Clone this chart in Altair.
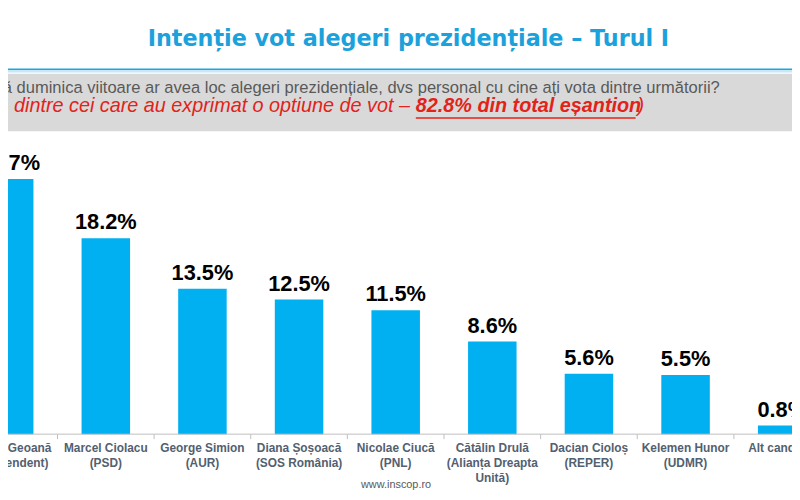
import altair as alt
import pandas as pd

# ---- data -------------------------------------------------------------
candidates = ["Mircea Geoană", "Marcel Ciolacu", "George Simion", "Diana  Șoșoacă",
              "Nicolae Ciucă", "Cătălin  Drulă", "Dacian  Cioloș", "Kelemen Hunor",
              "Alt candidat"]
parties = ["(Independent)", "(PSD)", "(AUR)", "(SOS România)", "(PNL)",
           "(Alianța  Dreapta\nUnită)", "(REPER)", "(UDMR)", ""]
values = [23.7, 18.2, 13.5, 12.5, 11.5, 8.6, 5.6, 5.5, 0.8]

title_text = "Intenție vot alegeri prezidențiale – Turul I"
question_text = ("Dacă duminica viitoare ar avea loc alegeri prezidențiale, "
                 "dvs personal cu cine ați vota dintre următorii?")
note_a = "(% dintre cei care au exprimat o optiune de vot –"
note_b = "82.8% din total eșantion"
note_c = ")"
footer_text = "www.inscop.ro"

# ---- table --------------------------------------------------------------
df = pd.DataFrame({
    "idx": list(range(len(candidates))),
    "value": values,
    "cat": [c + ("\n" + p if p else "") for c, p in zip(candidates, parties)],
})
one = pd.DataFrame({"a": [0]})

W, H = 792, 492
BLUE = "#00B0F0"
xs = alt.Scale(domain=[0.039, 8.0503], nice=False, zero=False)
ys = alt.Scale(domain=[-5.882, 39.338], nice=False, zero=False)

base = alt.Chart(df)

bars = base.mark_bar(size=49, color=BLUE, clip=True).encode(
    x=alt.X("idx:Q", scale=xs, axis=None),
    y=alt.Y("value:Q", scale=ys, axis=None),
    y2=alt.datum(0),
)

vlabels = base.transform_calculate(
    lab="format(datum.value, '.1f') + '%'"
).mark_text(font="Liberation Sans", fontSize=22, fontWeight="bold", color="#000000",
            baseline="alphabetic", dy=-9, clip=True).encode(
    x=alt.X("idx:Q", scale=xs, axis=None),
    y=alt.Y("value:Q", scale=ys, axis=None),
    text="lab:N",
)

catlabels = base.mark_text(font="Liberation Sans", fontSize=12, fontWeight="bold",
                           color="#52606F", baseline="alphabetic", lineBreak="\n",
                           lineHeight=15, clip=True).encode(
    x=alt.X("idx:Q", scale=xs, axis=None),
    y=alt.value(446),
    text="cat:N",
)

axisline = alt.Chart(one).mark_rule(color="#BFBFBF", strokeWidth=1).encode(
    x=alt.value(0), x2=alt.value(W),
    y=alt.Y("a:Q", scale=ys, axis=None),
)

ticks = base.transform_filter("datum.idx < 8").transform_calculate(
    b="datum.idx + 0.5"
).mark_rule(color="#BFBFBF", strokeWidth=1).encode(
    x=alt.X("b:Q", scale=xs, axis=None),
    y=alt.value(428), y2=alt.value(433),
)

grayband = alt.Chart(one).mark_rect(color="#D9D9D9").encode(
    x=alt.value(0), x2=alt.value(W), y=alt.value(64), y2=alt.value(122),
)
blueline = alt.Chart(one).mark_rule(color="#1FA5DD", strokeWidth=2).encode(
    x=alt.value(0), x2=alt.value(W), y=alt.value(59.5),
)
blueline2 = alt.Chart(one).mark_rule(color="#A9DDF3", strokeWidth=1).encode(
    x=alt.value(0), x2=alt.value(W), y=alt.value(62),
)

title = alt.Chart(one).mark_text(font="DejaVu Sans", fontSize=22.5,
                                 fontWeight="bold", color="#1BA1DB",
                                 align="center", baseline="alphabetic").encode(
    x=alt.value(404.5), y=alt.value(36), text=alt.value(title_text),
)

question = alt.Chart(one).mark_text(font="Liberation Sans", fontSize=16.7,
                                    color="#595959", align="right",
                                    baseline="alphabetic").encode(
    x=alt.value(719), y=alt.value(83), text=alt.value(question_text),
)

RED = "#E2231A"
note1 = alt.Chart(one).mark_text(font="Liberation Sans", fontSize=20, fontStyle="italic",
                                 color=RED, align="right", baseline="alphabetic").encode(
    x=alt.value(406), y=alt.value(103), text=alt.value(note_a),
)
note2 = alt.Chart(one).mark_text(font="Liberation Sans", fontSize=20, fontStyle="italic",
                                 fontWeight="bold", color=RED, align="left",
                                 baseline="alphabetic").encode(
    x=alt.value(412), y=alt.value(103), text=alt.value(note_b),
)
note3 = alt.Chart(one).mark_text(font="Liberation Sans", fontSize=20, fontStyle="italic",
                                 color=RED, align="left", baseline="alphabetic").encode(
    x=alt.value(636), y=alt.value(103), text=alt.value(note_c),
)
underline = alt.Chart(one).mark_rule(color=RED, strokeWidth=1.5).encode(
    x=alt.value(412), x2=alt.value(634), y=alt.value(108.5),
)

footer = alt.Chart(one).mark_text(font="Liberation Sans", fontSize=11,
                                  color="#595959", align="center",
                                  baseline="alphabetic").encode(
    x=alt.value(392), y=alt.value(482), text=alt.value(footer_text),
)

chart = alt.layer(
    grayband, blueline, blueline2, title, question, note1, note2, note3, underline,
    bars, vlabels, axisline, ticks, catlabels, footer,
).properties(
    width=W, height=H, padding=0,
    autosize=alt.AutoSizeParams(type="none"),
    background="#FFFFFF",
).configure_view(stroke=None)

chart.save("out.html", embed_options={"renderer": "svg", "actions": False})
